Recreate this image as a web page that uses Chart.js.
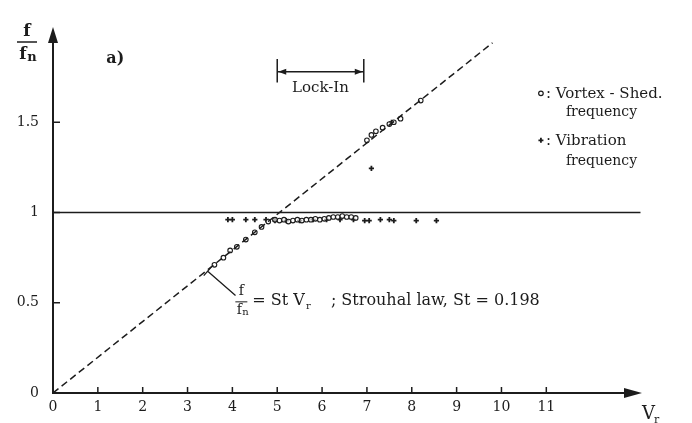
<!DOCTYPE html>
<html>
<head>
<meta charset="utf-8">
<script src="https://cdn.jsdelivr.net/npm/chart.js@4.4.1/dist/chart.umd.min.js"></script>
<style>
  html, body { margin: 0; padding: 0; background: #fff; }
  #wrap { width: 692px; height: 423px; }
</style>
</head>
<body>
<div id="wrap"><canvas id="c" width="692" height="423"></canvas></div>
<script>
// ---- data ----
const xTickValues = [0, 1, 2, 3, 4, 5, 6, 7, 8, 9, 10, 11];
const xTickLabels = ['0', '1', '2', '3', '4', '5', '6', '7', '8', '9', '10', '11'];
const yTickValues = [0, 0.5, 1, 1.5];
const yTickLabels = ['0', '0.5', '1', '1.5'];

// Vortex-shedding frequency (open circles)
const vortexV = [3.6, 3.8, 3.95, 4.1, 4.3, 4.5, 4.65, 4.8,
                 4.95, 5.05, 5.15, 5.25, 5.35, 5.45, 5.55, 5.65, 5.75, 5.85, 5.95,
                 6.05, 6.15, 6.25, 6.35, 6.45, 6.55, 6.65, 6.75,
                 7.0, 7.1, 7.2, 7.35, 7.5, 7.6, 7.75, 8.2];
const vortexF = [0.71, 0.75, 0.79, 0.81, 0.85, 0.89, 0.92, 0.95,
                 0.96, 0.955, 0.96, 0.95, 0.955, 0.96, 0.955, 0.96, 0.96, 0.965, 0.96,
                 0.965, 0.97, 0.975, 0.975, 0.98, 0.975, 0.975, 0.97,
                 1.40, 1.43, 1.45, 1.47, 1.49, 1.50, 1.52, 1.62];

// Vibration frequency (plus marks)
const vibV = [3.9, 4.0, 4.3, 4.5, 4.75, 4.95, 5.2, 5.5, 5.8, 6.1, 6.4, 6.7,
              6.95, 7.05, 7.3, 7.5, 7.6, 8.1, 8.55, 7.1, 7.55];
const vibF = [0.96, 0.96, 0.96, 0.96, 0.96, 0.955, 0.955, 0.955, 0.96, 0.96, 0.96, 0.96,
              0.955, 0.955, 0.96, 0.96, 0.955, 0.955, 0.955, 1.245, 1.50];

// Strouhal law line f/fn = St*Vr (St = 0.198), end points
const strouhalV = [0, 9.8];
const strouhalF = [0, 1.94];

// f/fn = 1 reference line
const unityV = [0, 13.1];
const unityF = [1, 1];

const zip = (a, b) => a.map((v, i) => ({ x: v, y: b[i] }));

const INK = '#1c1c1c';
const SERIF = '"DejaVu Serif", "Liberation Serif", serif';

const decorPlugin = {
  id: 'decor',
  afterDatasetsDraw(chart) {
    const ctx = chart.ctx;
    const xs = chart.scales.x, ys = chart.scales.y;
    const px = v => xs.getPixelForValue(v);
    const py = v => ys.getPixelForValue(v);
    const ca = chart.chartArea;
    ctx.save();
    ctx.strokeStyle = INK;
    ctx.fillStyle = INK;

    // inner tick marks
    ctx.lineWidth = 1.5;
    xTickValues.forEach(v => {
      if (v === 0) return;
      ctx.beginPath();
      ctx.moveTo(px(v), ca.bottom);
      ctx.lineTo(px(v), ca.bottom - 6);
      ctx.stroke();
    });
    yTickValues.forEach(v => {
      if (v === 0) return;
      ctx.beginPath();
      ctx.moveTo(ca.left, py(v));
      ctx.lineTo(ca.left + 7, py(v));
      ctx.stroke();
    });

    // axis arrows
    ctx.beginPath();
    ctx.moveTo(ca.right + 6, ca.bottom);
    ctx.lineTo(ca.right - 12, ca.bottom - 5);
    ctx.lineTo(ca.right - 12, ca.bottom + 5);
    ctx.closePath();
    ctx.fill();
    ctx.beginPath();
    ctx.moveTo(ca.left, ca.top - 5);
    ctx.lineTo(ca.left - 5, ca.top + 11);
    ctx.lineTo(ca.left + 5, ca.top + 11);
    ctx.closePath();
    ctx.fill();

    // y axis title f / f_n
    ctx.font = 'bold 17px ' + SERIF;
    ctx.textAlign = 'center';
    ctx.textBaseline = 'alphabetic';
    const tx = ca.left - 26;
    ctx.fillText('f', tx, ca.top + 4);
    ctx.lineWidth = 1.5;
    ctx.beginPath();
    ctx.moveTo(tx - 10, ca.top + 10);
    ctx.lineTo(tx + 10, ca.top + 10);
    ctx.stroke();
    ctx.fillText('f', tx - 4, ca.top + 27);
    ctx.font = 'bold 13px ' + SERIF;
    ctx.fillText('n', tx + 5, ca.top + 29);

    // x axis title V_r
    ctx.font = '18px ' + SERIF;
    ctx.textAlign = 'left';
    ctx.fillText('V', ca.right + 6, ca.bottom + 26);
    ctx.font = '11px ' + SERIF;
    ctx.fillText('r', ca.right + 18, ca.bottom + 30);

    // panel label a)
    ctx.font = 'bold 16px ' + SERIF;
    ctx.textAlign = 'center';
    ctx.fillText('a)', px(1.39), py(1.83));

    // Lock-In bracket
    const l0 = px(5.0), l1 = px(6.93), ly = py(1.78);
    ctx.lineWidth = 1.5;
    ctx.beginPath();
    ctx.moveTo(l0, py(1.85)); ctx.lineTo(l0, py(1.72));
    ctx.moveTo(l1, py(1.85)); ctx.lineTo(l1, py(1.72));
    ctx.moveTo(l0, ly); ctx.lineTo(l1, ly);
    ctx.stroke();
    ctx.beginPath();
    ctx.moveTo(l0 + 1, ly); ctx.lineTo(l0 + 9, ly - 3); ctx.lineTo(l0 + 9, ly + 3); ctx.closePath();
    ctx.moveTo(l1 - 1, ly); ctx.lineTo(l1 - 9, ly - 3); ctx.lineTo(l1 - 9, ly + 3); ctx.closePath();
    ctx.fill();
    ctx.font = '15px ' + SERIF;
    ctx.fillText('Lock-In', (l0 + l1) / 2, py(1.67));

    // legend
    ctx.textAlign = 'left';
    const lx = px(10.88);
    ctx.lineWidth = 1.2;
    ctx.beginPath();
    ctx.arc(lx, py(1.66), 2.3, 0, Math.PI * 2);
    ctx.stroke();
    ctx.font = '15px ' + SERIF;
    ctx.fillText(': Vortex - Shed.', lx + 5, py(1.635));
    ctx.font = '14px ' + SERIF;
    ctx.fillText('frequency', lx + 25, py(1.535));
    ctx.lineWidth = 1.8;
    ctx.beginPath();
    ctx.moveTo(lx - 2.5, py(1.40)); ctx.lineTo(lx + 2.5, py(1.40));
    ctx.moveTo(lx, py(1.40) - 2.5); ctx.lineTo(lx, py(1.40) + 2.5);
    ctx.stroke();
    ctx.font = '15px ' + SERIF;
    ctx.fillText(': Vibration', lx + 5, py(1.375));
    ctx.font = '14px ' + SERIF;
    ctx.fillText('frequency', lx + 25, py(1.265));

    // Strouhal annotation leader
    const ax = px(3.45), ay = py(0.675);
    const bx = px(4.07), by = py(0.54);
    ctx.lineWidth = 1.3;
    ctx.beginPath();
    ctx.moveTo(ax, ay); ctx.lineTo(bx, by);
    const dx = bx - ax, dy = by - ay, len = Math.hypot(dx, dy);
    const nx = -dy / len * 6, ny = dx / len * 6;
    ctx.moveTo(ax + nx, ay + ny); ctx.lineTo(ax - nx, ay - ny);
    ctx.stroke();

    // Strouhal text with fraction
    const fx = px(4.2);
    ctx.textAlign = 'center';
    ctx.font = '14px ' + SERIF;
    ctx.fillText('f', fx, py(0.545));
    ctx.lineWidth = 1;
    ctx.beginPath();
    ctx.moveTo(fx - 6, py(0.505)); ctx.lineTo(fx + 6, py(0.505));
    ctx.stroke();
    ctx.fillText('f', fx - 2, py(0.44));
    ctx.font = '10px ' + SERIF;
    ctx.fillText('n', fx + 4, py(0.43));
    ctx.textAlign = 'left';
    ctx.font = '16px ' + SERIF;
    const base = py(0.49);
    ctx.fillText('= St V', fx + 11, base);
    const vEnd = fx + 11 + ctx.measureText('= St V').width;
    ctx.font = '10px ' + SERIF;
    ctx.fillText('r', vEnd + 1, base + 4);
    ctx.font = '16px ' + SERIF;
    ctx.fillText('; Strouhal law, St = 0.198', vEnd + 26, base);

    ctx.restore();
  }
};

new Chart(document.getElementById('c'), {
  type: 'scatter',
  data: {
    datasets: [
      {
        label: 'Strouhal law',
        data: zip(strouhalV, strouhalF),
        showLine: true,
        borderColor: INK,
        borderWidth: 1.5,
        borderDash: [7, 4],
        pointRadius: 0,
        fill: false
      },
      {
        label: 'f/fn = 1',
        data: zip(unityV, unityF),
        showLine: true,
        borderColor: INK,
        borderWidth: 1.6,
        pointRadius: 0,
        fill: false,
        clip: false
      },
      {
        label: 'Vortex - Shed. frequency',
        data: zip(vortexV, vortexF),
        pointStyle: 'circle',
        pointRadius: 2.3,
        borderWidth: 1.1,
        borderColor: INK,
        backgroundColor: 'rgba(255,255,255,0.6)'
      },
      {
        label: 'Vibration frequency',
        data: zip(vibV, vibF),
        pointStyle: 'cross',
        pointRadius: 2.6,
        borderWidth: 1.8,
        borderColor: INK,
        backgroundColor: INK
      }
    ]
  },
  options: {
    responsive: false,
    animation: false,
    layout: { padding: { top: 32, right: 56, left: 0, bottom: 0 } },
    plugins: { legend: { display: false }, tooltip: { enabled: false } },
    scales: {
      x: {
        type: 'linear',
        min: 0, max: 13,
        afterFit: s => { s.height = 30; },
        afterBuildTicks: s => { s.ticks = xTickValues.map(v => ({ value: v })); },
        ticks: {
          padding: 6,
          color: INK,
          font: { family: SERIF, size: 14 },
          maxRotation: 0,
          autoSkip: false,
          callback: (v) => { const i = xTickValues.indexOf(v); return i >= 0 ? xTickLabels[i] : ''; }
        },
        grid: { display: false, drawTicks: false },
        border: { display: true, color: INK, width: 2 }
      },
      y: {
        type: 'linear',
        min: 0, max: 2,
        afterFit: s => { s.width = 53; },
        afterBuildTicks: s => { s.ticks = yTickValues.map(v => ({ value: v })); },
        ticks: {
          padding: 14,
          color: INK,
          font: { family: SERIF, size: 14 },
          autoSkip: false,
          callback: (v) => { const i = yTickValues.indexOf(v); return i >= 0 ? yTickLabels[i] : ''; }
        },
        grid: { display: false, drawTicks: false },
        border: { display: true, color: INK, width: 2 }
      }
    }
  },
  plugins: [decorPlugin]
});
</script>
</body>
</html>
